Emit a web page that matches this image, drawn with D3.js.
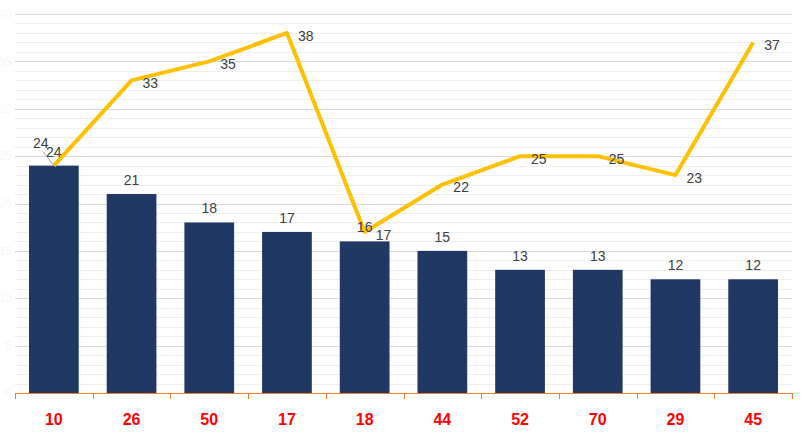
<!DOCTYPE html>
<html><head><meta charset="utf-8">
<script src="https://cdn.jsdelivr.net/npm/d3@7"></script>
<style>html,body{margin:0;padding:0;background:#fff;}svg{display:block;}</style>
</head><body>
<script>
const categories = ["10","26","50","17","18","44","52","70","29","45"];
const barValues  = [24,21,18,17,16,15,13,13,12,12];
const lineValues = [24,33,35,38,17,22,25,25,23,37];
const yTicks = [0,5,10,15,20,25,30,35,40];

(function () {
const W = 807, H = 438;
const pLeft = 15, pRight = 792, pTop = 14, base = 393;
const svg = d3.select("body").append("svg").attr("width", W).attr("height", H);

const x = d3.scaleBand().domain(categories).range([pLeft, pRight]).padding(0);
const y = d3.scaleLinear().domain([0, 40]).range([base, pTop]);

// minor gridlines
svg.append("g").selectAll("line").data(d3.range(1, 41).filter(v => v % 5 !== 0))
  .join("line").attr("x1", pLeft).attr("x2", pRight)
  .attr("y1", d => Math.round(y(d)) + 0.5).attr("y2", d => Math.round(y(d)) + 0.5)
  .attr("stroke", "#efefef").attr("stroke-width", 1);
// major gridlines
svg.append("g").selectAll("line").data(yTicks.filter(v => v > 0))
  .join("line").attr("x1", pLeft).attr("x2", pRight)
  .attr("y1", d => Math.round(y(d)) + 0.5).attr("y2", d => Math.round(y(d)) + 0.5)
  .attr("stroke", "#d9d9d9").attr("stroke-width", 1);
// near-invisible y labels
svg.append("g").selectAll("text").data(yTicks).join("text")
  .attr("x", 12).attr("y", d => y(d)).attr("dy", "0.35em").attr("text-anchor", "end")
  .attr("font-family", "Liberation Sans, Arial, sans-serif").attr("font-size", 12)
  .attr("fill", "#f7f7f7").text(d => d);

// bars
const bw = x.bandwidth() * 0.64;
svg.append("g").selectAll("rect").data(barValues).join("rect")
  .attr("x", (d, i) => x(categories[i]) + (x.bandwidth() - bw) / 2)
  .attr("y", d => y(d)).attr("width", bw).attr("height", d => base - y(d))
  .attr("fill", "#203864");

// x axis
const axis = svg.append("g");
axis.append("line").attr("x1", pLeft).attr("x2", pRight).attr("y1", base + 0.5).attr("y2", base + 0.5)
  .attr("stroke", "#ED7D31").attr("stroke-width", 1);
const bounds = categories.map(c => x(c)).concat([pRight]);
axis.selectAll("line.tick").data(bounds).join("line").attr("class", "tick")
  .attr("x1", d => Math.round(d) + 0.5).attr("x2", d => Math.round(d) + 0.5)
  .attr("y1", base).attr("y2", base + 6).attr("stroke", "#ED7D31").attr("stroke-width", 1);
axis.selectAll("text").data(categories).join("text")
  .attr("x", d => x(d) + x.bandwidth() / 2).attr("y", 425).attr("text-anchor", "middle")
  .attr("font-family", "Liberation Sans, Arial, sans-serif").attr("font-weight", "bold")
  .attr("font-size", 16).attr("fill", "#FF0000").text(d => d);

// line
const cx = i => x(categories[i]) + x.bandwidth() / 2;
const line = d3.line().x((d, i) => cx(i)).y(d => y(d));
svg.append("path").datum(lineValues).attr("d", line)
  .attr("fill", "none").attr("stroke", "#FFC000").attr("stroke-width", 4)
  .attr("stroke-linejoin", "round");

const font = "Liberation Sans, Arial, sans-serif";
// bar labels
svg.append("g").selectAll("text").data(barValues).join("text")
  .attr("x", (d, i) => cx(i)).attr("y", d => y(d) - 9).attr("text-anchor", "middle")
  .attr("font-family", font).attr("font-size", 14).attr("fill", "#404040").text(d => d);

// line labels (first one moved with a leader line)
const lbl = svg.append("g");
lineValues.forEach((v, i) => {
  if (i === 0) {
    lbl.append("line").attr("x1", cx(i) - 11).attr("y1", y(v) - 14).attr("x2", cx(i)).attr("y2", y(v))
      .attr("stroke", "#a6a6a6").attr("stroke-width", 1);
    lbl.append("text").attr("x", cx(i) - 13).attr("y", y(v) - 18).attr("text-anchor", "middle")
      .attr("font-family", font).attr("font-size", 14).attr("fill", "#404040").text(v);
  } else {
    lbl.append("text").attr("x", cx(i) + 11).attr("y", y(v) + 3).attr("dy", "0.35em")
      .attr("font-family", font).attr("font-size", 14).attr("fill", "#404040").text(v);
  }
});
})();
</script>
</body></html>
